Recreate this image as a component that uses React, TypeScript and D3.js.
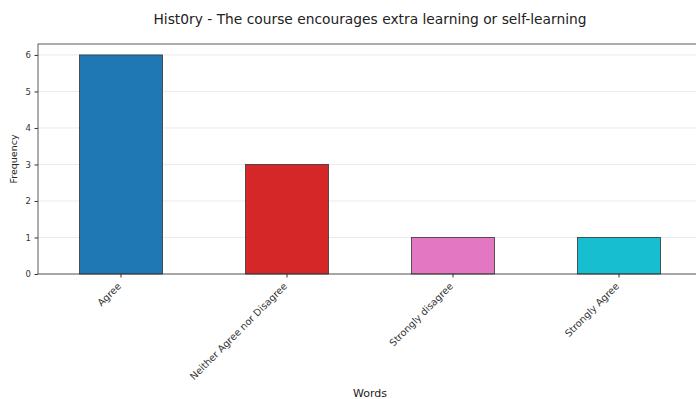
import React, { useEffect, useRef } from 'react';
import * as d3 from 'd3';

const categories = ['Agree', 'Neither Agree nor Disagree', 'Strongly disagree', 'Strongly Agree'];
const counts = [6, 3, 1, 1];
const barColors = ['#1f77b4', '#d62728', '#e377c2', '#17becf'];
const yTicks = [0, 1, 2, 3, 4, 5, 6];

const App: React.FC = () => {
  const svgRef = useRef<SVGSVGElement>(null);

  useEffect(() => {
    if (!svgRef.current) return;
    const svg = d3.select(svgRef.current);
    svg.selectAll('*').remove();

    const left = 38, right = 702, top = 44, bottom = 274;
    const font = 'DejaVu Sans, sans-serif';

    const x = d3.scaleBand<string>()
      .domain(categories)
      .range([left, right])
      .paddingInner(0.5)
      .paddingOuter(0.25);

    const y = d3.scaleLinear().domain([0, 6.3]).range([bottom, top]);

    // grid
    svg.append('g')
      .selectAll('line')
      .data(yTicks)
      .enter()
      .append('line')
      .attr('x1', left)
      .attr('x2', right)
      .attr('y1', d => y(d))
      .attr('y2', d => y(d))
      .attr('stroke', '#e6e6e6')
      .attr('stroke-width', 0.8);

    // bars
    svg.append('g')
      .selectAll('rect')
      .data(counts)
      .enter()
      .append('rect')
      .attr('x', (d, i) => x(categories[i]) || 0)
      .attr('width', x.bandwidth())
      .attr('y', d => y(d))
      .attr('height', d => bottom - y(d))
      .attr('fill', (d, i) => barColors[i])
      .attr('stroke', '#333')
      .attr('stroke-width', 0.8);

    // frame
    svg.append('rect')
      .attr('x', left)
      .attr('y', top)
      .attr('width', right - left)
      .attr('height', bottom - top)
      .attr('fill', 'none')
      .attr('stroke', '#333')
      .attr('stroke-width', 0.8);

    // y axis
    const yAxis = svg.append('g')
      .attr('transform', `translate(${left},0)`)
      .call(d3.axisLeft(y).tickValues(yTicks).tickSize(3.5).tickPadding(3.5).tickFormat(d3.format('d')));
    yAxis.select('.domain').remove();
    yAxis.selectAll('text').attr('font-size', 8.5).attr('font-family', font).attr('fill', '#333');
    yAxis.selectAll('line').attr('stroke', '#333');

    // x axis
    const xAxis = svg.append('g')
      .attr('transform', `translate(0,${bottom})`)
      .call(d3.axisBottom(x).tickSize(3.5).tickPadding(3));
    xAxis.select('.domain').remove();
    xAxis.selectAll('line').attr('stroke', '#333');
    xAxis.selectAll('text')
      .attr('font-size', 9.7)
      .attr('font-family', font)
      .attr('fill', '#333')
      .attr('text-anchor', 'end')
      .attr('dy', '0.75em')
      .attr('transform', 'translate(-9,3) rotate(-45)');

    // title and labels
    svg.append('text')
      .attr('x', (left + right) / 2)
      .attr('y', 24)
      .attr('text-anchor', 'middle')
      .attr('font-family', font)
      .attr('font-size', 13.8)
      .attr('fill', '#222')
      .text('Hist0ry - The course encourages extra learning or self-learning');

    svg.append('text')
      .attr('x', (left + right) / 2)
      .attr('y', 397)
      .attr('text-anchor', 'middle')
      .attr('font-family', font)
      .attr('font-size', 11)
      .attr('fill', '#222')
      .text('Words');

    svg.append('text')
      .attr('transform', `translate(17,${(top + bottom) / 2}) rotate(-90)`)
      .attr('text-anchor', 'middle')
      .attr('font-family', font)
      .attr('font-size', 9.5)
      .attr('fill', '#222')
      .text('Frequency');
  }, []);

  return (
    <svg ref={svgRef} width={696} height={399} viewBox="0 0 696 399"
      style={{ position: 'absolute', left: 0, top: 0, background: '#fff' }} />
  );
};

export default App;
